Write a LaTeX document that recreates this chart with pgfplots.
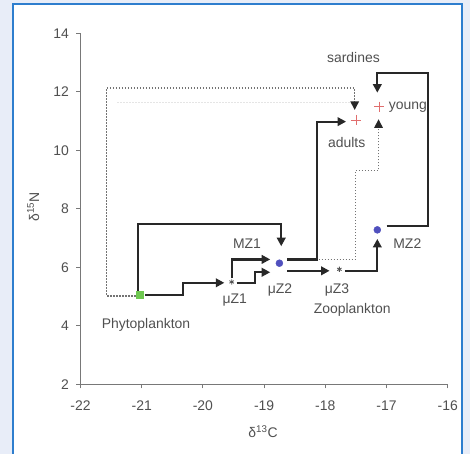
\documentclass[border=0pt]{standalone}
\usepackage{pgfplots}
\pgfplotsset{compat=1.18}
\usepackage{fontspec}
\setmainfont{Liberation Sans}
\usetikzlibrary{arrows.meta}
\definecolor{bgblue}{RGB}{232,237,248}
\definecolor{frameblue}{RGB}{46,126,206}
\definecolor{txt}{RGB}{80,80,80}
\definecolor{axgray}{RGB}{120,120,120}
\definecolor{arrcol}{RGB}{40,40,40}
\definecolor{dotg}{RGB}{115,115,115}
\definecolor{phyg}{RGB}{110,200,80}
\definecolor{mzblue}{RGB}{80,80,190}
\definecolor{sred}{RGB}{225,110,110}
\pgfplotsset{
  arrline/.style={no marks, color=arrcol, line width=2.2bp, -{Triangle[length=8.5bp,width=8.5bp]}, sharp plot},
  dotline/.style={no marks, color=dotg, line width=1.2bp, dash pattern=on 1.5bp off 1.5bp, -{Triangle[length=8.5bp,width=8.5bp,color=arrcol]}, sharp plot},
}
\tikzset{lbl/.style={font=\fontsize{14}{16}\selectfont, text=txt, inner sep=0pt}}
\begin{document}
\begin{tikzpicture}
\fill[bgblue] (-80.5bp,-69.7bp) rectangle (389.5bp,384.3bp);
\filldraw[fill=white, draw=frameblue, line width=2.2bp] (-67.5bp,380.3bp) rectangle (381.5bp,-80bp);
\begin{axis}[
  scale only axis, width=367.2bp, height=351bp,
  xmin=-22, xmax=-16, ymin=2, ymax=14,
  axis lines*=left,
  axis line style={axgray, line width=1.3bp},
  xtick={-22,-21,-20,-19,-18,-17,-16},
  xticklabels={-22,-21,-20,-19,-18,-17,-16},
  ytick={2,4,6,8,10,12,14},
  yticklabels={2,4,6,8,10,12,14},
  tick align=outside, major tick length=4bp,
  tick style={axgray, line width=1bp},
  tick label style={font=\fontsize{14}{16}\selectfont, text=txt},
  xticklabel style={yshift=-9bp},
  yticklabel style={xshift=-4bp},
  xlabel={δ\textsuperscript{13}C},
  ylabel={δ\textsuperscript{15}N},
  label style={font=\fontsize{14}{16}\selectfont, text=txt},
  x label style={at={(axis description cs:0.497,-0.136)}, anchor=center},
  y label style={at={(axis description cs:-0.129,0.505)}, anchor=center},
  clip=false,
]
% faint ghost line
\addplot[no marks, color=black!10, line width=1bp, dash pattern=on 1.5bp off 1.5bp] coordinates {(-21.4,11.62) (-17.6,11.62)};
% dotted pathways
\addplot[dotline] coordinates {(-21.0,5.02) (-21.57,5.02) (-21.57,12.13) (-17.52,12.13) (-17.52,11.38)};
\addplot[dotline] coordinates {(-18.6,6.27) (-17.51,6.27) (-17.51,9.3) (-17.13,9.3) (-17.13,11.06)};
% solid arrows
\addplot[arrline] coordinates {(-20.95,5.05) (-20.32,5.05) (-20.32,5.47) (-19.65,5.47)};
\addplot[arrline] coordinates {(-21.06,5.2) (-21.06,7.48) (-18.72,7.48) (-18.72,6.72)};
\addplot[arrline] coordinates {(-19.45,5.47) (-19.15,5.47) (-19.15,5.83) (-18.9,5.83)};
\addplot[arrline] coordinates {(-19.52,5.62) (-19.52,6.27) (-18.9,6.27)};
\addplot[arrline] coordinates {(-18.62,6.27) (-18.14,6.27) (-18.14,10.98) (-17.66,10.98)};
\addplot[arrline] coordinates {(-18.62,5.88) (-17.93,5.88)};
\addplot[arrline] coordinates {(-17.68,5.88) (-17.15,5.88) (-17.15,6.97)};
\addplot[arrline] coordinates {(-17.0,7.41) (-16.32,7.41) (-16.32,12.65) (-17.15,12.65) (-17.15,11.97)};
% points
\addplot[only marks, mark=square*, mark size=3.5bp, color=phyg] coordinates {(-21.04,5.08)};
\addplot[only marks, mark=asterisk, mark size=2.6bp, color=arrcol!80, line width=0.8bp] coordinates {(-19.53,5.5) (-17.77,5.93)};
\addplot[only marks, mark=*, mark size=3.5bp, color=mzblue] coordinates {(-18.75,6.14) (-17.15,7.28)};
\addplot[only marks, mark=+, mark size=5bp, color=sred, line width=0.7bp] coordinates {(-17.5,11.04) (-17.12,11.49)};
% labels
\node[lbl] at (axis cs:-20.93,4.03) {Phytoplankton};
\node[lbl] at (axis cs:-19.48,4.88) {μZ1};
\node[lbl] at (axis cs:-18.74,5.22) {μZ2};
\node[lbl] at (axis cs:-19.28,6.82) {MZ1};
\node[lbl] at (axis cs:-17.81,5.22) {μZ3};
\node[lbl] at (axis cs:-17.56,4.54) {Zooplankton};
\node[lbl] at (axis cs:-16.66,6.82) {MZ2};
\node[lbl] at (axis cs:-17.65,10.26) {adults};
\node[lbl] at (axis cs:-16.65,11.48) {young};
\node[lbl] at (axis cs:-17.54,13.18) {sardines};
\end{axis}
\pgfresetboundingbox
\path[use as bounding box] (-80.5bp,-69.7bp) rectangle (389.5bp,384.3bp);
\end{tikzpicture}
\end{document}
